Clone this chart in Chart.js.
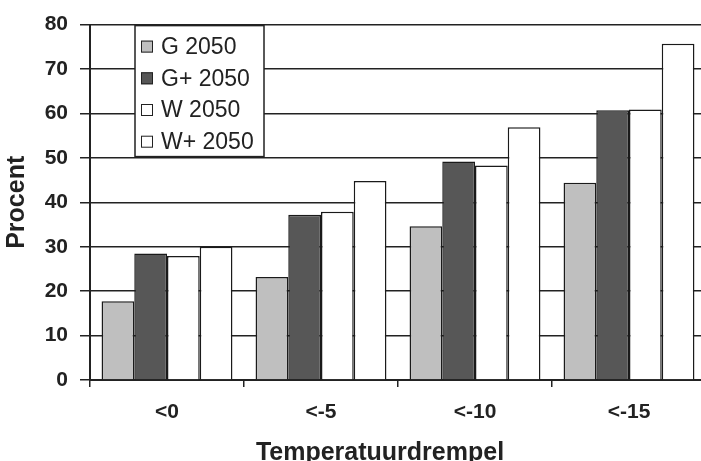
<!DOCTYPE html>
<html><head><meta charset="utf-8">
<script src="https://cdn.jsdelivr.net/npm/chart.js@4"></script>
<style>html,body{margin:0;padding:0;overflow:hidden;background:#fff}#wrap{width:712px;height:461px;position:relative}</style>
</head><body><div id="wrap"><canvas id="c" width="712" height="461"></canvas></div>
<script>
const categories = ['<0', '<-5', '<-10', '<-15'];
const seriesNames = ['G 2050', 'G+ 2050', 'W 2050', 'W+ 2050'];
const gValues = [17.7, 23.2, 34.6, 44.4];
const gPlusValues = [28.5, 37.2, 49.2, 60.7];
const wValues = [27.9, 37.9, 48.3, 60.9];
const wPlusValues = [30.0, 44.8, 56.9, 75.7];
const yTickValues = [0, 10, 20, 30, 40, 50, 60, 70, 80];
const yTitle = 'Procent';
const xTitle = 'Temperatuurdrempel';

const FONT = '"Liberation Sans", Arial, sans-serif';
const INK = '#222';
const fills = ['#bfbfbf', '#575757', '#ffffff', '#ffffff'];
const seriesValues = [gValues, gPlusValues, wValues, wPlusValues];

const overlay = {
  id: 'overlay',
  afterDraw(chart) {
    const ctx = chart.ctx, a = chart.chartArea;
    const bx = a.left + 45, by = a.top + 1, bw = 129, bh = 131;
    ctx.save();
    ctx.fillStyle = '#fff';
    ctx.fillRect(bx, by, bw, bh);
    ctx.strokeStyle = INK; ctx.lineWidth = 1.5;
    ctx.strokeRect(bx, by, bw, bh);
    ctx.font = '23px ' + FONT;
    ctx.textBaseline = 'middle';
    ctx.textAlign = 'left';
    chart.data.datasets.forEach((ds, i) => {
      const cy = by + 21 + i * 31.7;
      ctx.fillStyle = ds.backgroundColor;
      ctx.fillRect(bx + 6, cy - 6, 12, 12);
      ctx.strokeStyle = INK; ctx.lineWidth = 1;
      ctx.strokeRect(bx + 6.5, cy - 5.5, 11, 11);
      ctx.fillStyle = INK;
      ctx.fillText(ds.label, bx + 26, cy + 1);
    });
    ctx.font = 'bold 25px ' + FONT;
    ctx.textAlign = 'center';
    ctx.textBaseline = 'alphabetic';
    ctx.fillStyle = INK;
    ctx.fillText(xTitle, (a.left + a.right) / 2 - 18, 460);
    ctx.restore();
  }
};

new Chart(document.getElementById('c'), {
  type: 'bar',
  data: {
    labels: categories,
    datasets: seriesNames.map((name, i) => ({
      label: name,
      data: seriesValues[i],
      backgroundColor: fills[i],
      borderColor: '#1a1a1a',
      borderWidth: 1.5,
      borderSkipped: 'bottom',
      categoryPercentage: 0.85,
      barPercentage: 1.0
    }))
  },
  options: {
    responsive: false,
    animation: false,
    layout: { padding: { top: 23, right: 6, left: 0, bottom: 0 } },
    plugins: { legend: { display: false }, tooltip: { enabled: false } },
    scales: {
      x: {
        afterFit: s => { s.height = 81; },
        grid: { offset: true, drawOnChartArea: false, drawTicks: true, tickLength: 7, color: INK, lineWidth: 1.5 },
        border: { display: true, color: INK, width: 2 },
        ticks: { color: INK, font: { family: FONT, size: 21, weight: 'bold' }, padding: 13 }
      },
      y: {
        min: 0, max: 80,
        afterFit: s => { s.width = 90; },
        afterBuildTicks: s => { s.ticks = yTickValues.map(v => ({ value: v })); },
        grid: { color: INK, lineWidth: 1.5, tickLength: 10, tickColor: INK },
        border: { display: true, color: INK, width: 2 },
        ticks: { color: INK, font: { family: FONT, size: 21, weight: 'bold' }, padding: 12 },
        title: { display: true, text: yTitle, color: INK, font: { family: FONT, size: 25, weight: 'bold' }, padding: { top: 2, bottom: 0 } }
      }
    }
  },
  plugins: [overlay]
});
</script></body></html>
